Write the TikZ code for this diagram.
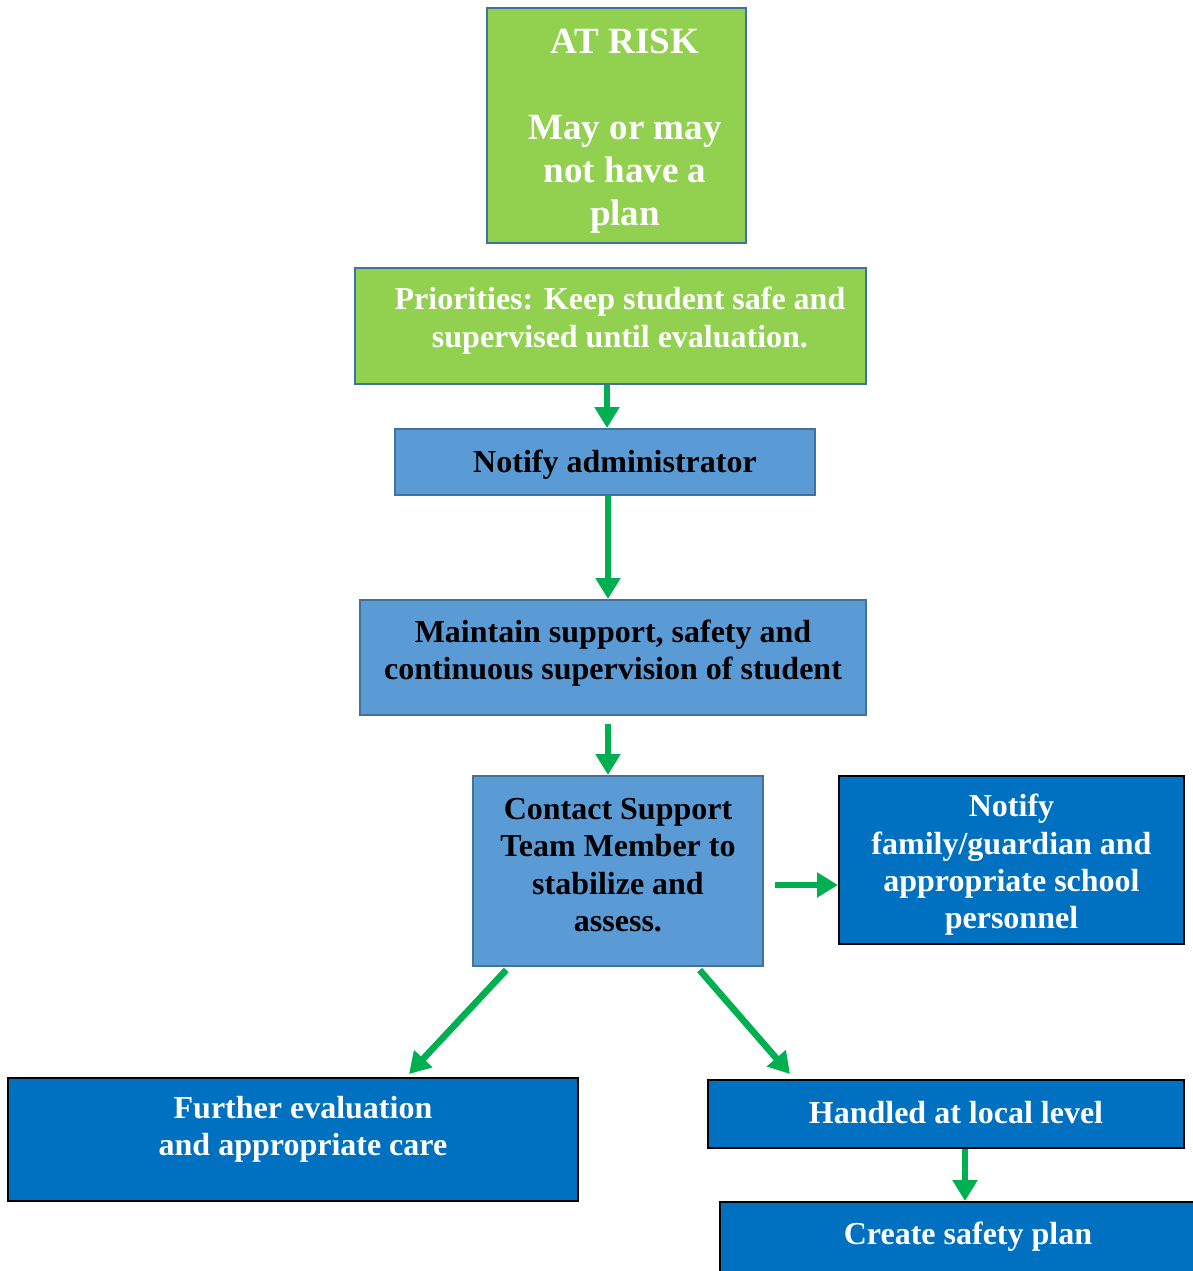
\documentclass[tikz,border=0pt]{standalone}
\usepackage{fontspec}
\setmainfont{Liberation Serif}
\usetikzlibrary{arrows.meta}

\definecolor{riskgreen}{HTML}{92D050}
\definecolor{stepblue}{HTML}{5B9BD5}
\definecolor{edgeblue}{HTML}{41719C}
\definecolor{darkblue}{HTML}{0070C0}
\definecolor{arrowgreen}{HTML}{00B050}

\tikzset{
    box/.style={draw, rectangle, line width=1pt, inner sep=0pt},
    greenbox/.style={box, draw=edgeblue, fill=riskgreen},
    lightbox/.style={box, draw=edgeblue, fill=stepblue},
    darkbox/.style={box, draw=black, fill=darkblue},
    boxtext/.style={align=center, font=\fontsize{16}{18.7}\selectfont\bfseries},
    arr/.style={-{Triangle[width=12pt,length=10.5pt]}, line width=3.3pt, draw=arrowgreen}
}

\begin{document}
\begin{tikzpicture}[x=0.5pt, y=-0.5pt]
    \useasboundingbox (0,0) rectangle (1193,1271);
    \clip (0,0) rectangle (1193,1271);

    %% top of the chart
    \node[greenbox, minimum width=129.5pt, minimum height=117.5pt,
        label={[boxtext, text=white, font=\fontsize{18.5}{21.5}\selectfont\bfseries, xshift=4.25pt, yshift=-3pt]center:AT RISK\\[21.5pt]May or may\\not have a\\plan}](risk) at (616.5,125.5){};
    \node[greenbox, minimum width=255.5pt, minimum height=58pt,
        label={[boxtext, text=white, xshift=4.75pt, yshift=2.75pt]center:Priorities: Keep student safe and\\supervised until evaluation.}](prio) at (610.5,326){};
    \node[lightbox, minimum width=210pt, minimum height=33pt,
        label={[boxtext, xshift=5pt, yshift=-1.25pt]center:Notify administrator}](admin) at (605,462){};
    \node[lightbox, minimum width=253pt, minimum height=57.5pt,
        label={[boxtext, yshift=2.25pt]center:Maintain support, safety and\\continuous supervision of student}](maintain) at (613,657.5){};
    \node[lightbox, minimum width=145pt, minimum height=95pt,
        label={[boxtext, yshift=3pt]center:Contact Support\\Team Member to\\stabilize and\\assess.}](contact) at (618,871){};

    %% outcomes
    \node[darkbox, minimum width=172.5pt, minimum height=84pt,
        label={[boxtext, text=white, yshift=-2.5pt]center:Notify\\family/guardian and\\appropriate school\\personnel}](family) at (1011.5,860){};
    \node[darkbox, minimum width=285pt, minimum height=61.5pt,
        label={[boxtext, text=white, xshift=5pt, yshift=5pt]center:Further evaluation\\and appropriate care}](further) at (293,1139.5){};
    \node[darkbox, minimum width=238pt, minimum height=34pt,
        label={[boxtext, text=white, xshift=5pt, yshift=0.5pt]center:Handled at local level}](local) at (946,1114){};
    \node[darkbox, minimum width=248pt, minimum height=39pt,
        label={[boxtext, text=white, yshift=2pt]center:Create safety plan}](plan) at (968,1241){};

    %% arrows
    \draw[arr] ([xshift=-1.75pt]prio.south) -- ([xshift=-1.75pt]prio.south |- admin.north);
    \draw[arr] ([xshift=1.5pt]admin.south) -- ([xshift=1.5pt]admin.south |- maintain.north);
    \draw[arr, shorten <=4pt] ([xshift=-2.5pt]maintain.south) -- ([xshift=-2.5pt]maintain.south |- contact.north);
    \draw[arr, shorten <=5.5pt] ([yshift=-7pt]contact.east) -- ([yshift=-7pt]contact.east -| family.west);
    \draw[arr, shorten <=2pt] ([xshift=18.5pt]contact.south west) -- ([xshift=201pt, yshift=1.5pt]further.north west);
    \draw[arr, shorten <=2pt] ([xshift=-33.5pt]contact.south east) -- ([xshift=41.5pt, yshift=2.5pt]local.north west);
    \draw[arr] ([xshift=9.5pt]local.south) -- ([xshift=9.5pt]local.south |- plan.north);
\end{tikzpicture}
\end{document}
